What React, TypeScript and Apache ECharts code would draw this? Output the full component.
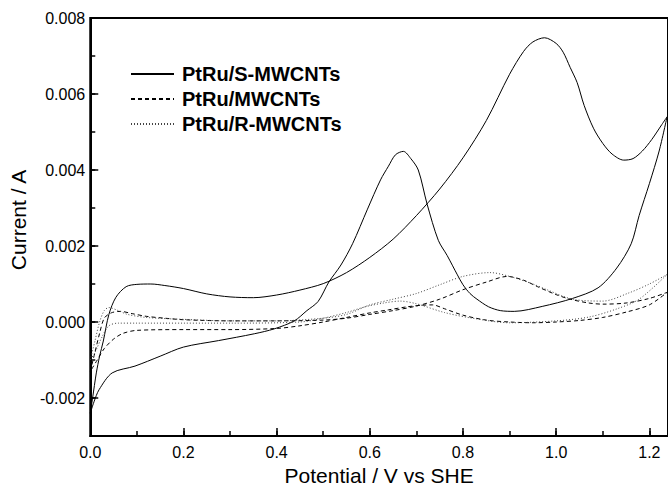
import React, { useEffect, useRef } from 'react';
import * as echarts from 'echarts';

const seriesNames = ['PtRu/S-MWCNTs', 'PtRu/MWCNTs', 'PtRu/R-MWCNTs'];

// PtRu/S-MWCNTs: forward scan then backward scan (potential V, current A)
const sV = [
  0.0, 0.005, 0.013, 0.02, 0.028, 0.04, 0.055, 0.077, 0.1, 0.13, 0.16, 0.2, 0.25, 0.3, 0.35, 0.4, 0.45, 0.5,
  0.55, 0.6, 0.65, 0.7, 0.75, 0.8, 0.85, 0.9, 0.93, 0.95, 0.975, 1.0, 1.015, 1.03, 1.045, 1.06, 1.08, 1.1,
  1.12, 1.145, 1.165, 1.185, 1.205, 1.227, 1.238,
  1.221, 1.2, 1.178, 1.161, 1.13, 1.09, 1.035, 0.97, 0.91, 0.88, 0.855, 0.83, 0.815, 0.8, 0.788, 0.766,
  0.747, 0.723, 0.704, 0.688, 0.672, 0.655, 0.64, 0.623, 0.595, 0.563, 0.538, 0.512, 0.489, 0.465, 0.438,
  0.395, 0.352, 0.275, 0.2, 0.15, 0.096, 0.047, 0.019, 0.008, 0.0,
];
const sI = [
  -0.0024, -0.002, -0.00134, -0.0009, -0.0005, 0.0002, 0.00065, 0.00093, 0.00099, 0.001, 0.00096, 0.00088,
  0.00074, 0.00066, 0.00064, 0.00071, 0.00084, 0.00101, 0.0013, 0.0017, 0.00218, 0.0028, 0.0035, 0.00432,
  0.0053, 0.00652, 0.00712, 0.00737, 0.00748, 0.00733, 0.0071, 0.0067, 0.0063, 0.0057, 0.0051, 0.0047,
  0.00442, 0.00426, 0.0043, 0.0045, 0.0048, 0.0052, 0.0054,
  0.0045, 0.00364, 0.0028, 0.00206, 0.00142, 0.0009, 0.00062, 0.00041, 0.00028, 0.0003, 0.0004, 0.0006,
  0.00075, 0.00098, 0.00124, 0.00175, 0.00215, 0.0031, 0.004, 0.0043, 0.00449, 0.0044, 0.0041, 0.00374,
  0.00297, 0.00206, 0.0015, 0.00105, 0.00054, 0.0003, 0.00003, -0.00018, -0.00031, -0.00049, -0.00066,
  -0.0009, -0.00116, -0.00134, -0.00178, -0.0021, -0.0024,
];

// PtRu/MWCNTs
const mV = [
  0.0, 0.01, 0.02, 0.03, 0.045, 0.065, 0.09, 0.12, 0.16, 0.2, 0.3, 0.4, 0.5, 0.55, 0.6, 0.65, 0.7, 0.75, 0.8,
  0.85, 0.895, 0.93, 0.96, 1.0, 1.03, 1.07, 1.1, 1.15, 1.2, 1.238,
  1.2, 1.15, 1.1, 1.05, 1.0, 0.95, 0.9, 0.85, 0.8, 0.76, 0.735, 0.71, 0.68, 0.64, 0.6, 0.55, 0.5, 0.45, 0.4,
  0.3, 0.2, 0.1, 0.07, 0.05, 0.03, 0.015, 0.0,
];
const mI = [
  -0.0013, -0.0008, -0.0003, 0.0001, 0.00024, 0.00028, 0.00022, 0.00015, 0.0001, 0.00006, 0.00003, 0.00003,
  0.00005, 0.0001, 0.0002, 0.0003, 0.00042, 0.0006, 0.00085, 0.00105, 0.0012, 0.0011, 0.00093, 0.00072,
  0.0006, 0.0005, 0.00047, 0.0005, 0.00062, 0.00078,
  0.00045, 0.00026, 0.00012, 0.00004, 0.0, -0.00002, 0.0, 0.00005, 0.00018, 0.00035, 0.00045, 0.00044,
  0.0004, 0.00032, 0.00024, 0.00012, 0.0, -0.0001, -0.00017, -0.0002, -0.0002, -0.00022, -0.0003, -0.00045,
  -0.0007, -0.001, -0.0013,
];

// PtRu/R-MWCNTs
const rV = [
  0.0, 0.01, 0.02, 0.03, 0.04, 0.06, 0.08, 0.12, 0.2, 0.3, 0.4, 0.5, 0.55, 0.6, 0.65, 0.7, 0.75, 0.8, 0.858,
  0.9, 0.95, 0.98, 1.035, 1.1, 1.157, 1.2, 1.238,
  1.178, 1.129, 1.07, 1.0, 0.9, 0.82, 0.76, 0.7, 0.665, 0.63, 0.59, 0.55, 0.5, 0.45, 0.3, 0.2, 0.1, 0.06,
  0.04, 0.025, 0.01, 0.0,
];
const rI = [
  -0.001, -0.0005, 0.0, 0.0003, 0.00038, 0.0003, 0.0002, 0.00012, 0.00007, 0.00003, 0.00003, 0.0001, 0.0002,
  0.00045, 0.0006, 0.00075, 0.00098, 0.0012, 0.0013, 0.0012, 0.001, 0.00085, 0.0006, 0.00055, 0.00077, 0.001,
  0.00125,
  0.0006, 0.00034, 0.00013, 0.00003, -0.00002, 0.0001, 0.00025, 0.00048, 0.00055, 0.0005, 0.0004, 0.00025,
  0.0001, 0.0, -0.00003, -0.00003, -0.00003, -0.00003, -0.0001, -0.0004, -0.0008, -0.001,
];

const FONT = '"Liberation Sans", Arial, Helvetica, sans-serif';

const zip = (v: number[], i: number[]) => v.map((x, k) => [x, i[k]]);

export default function App() {
  const ref = useRef<HTMLDivElement>(null);
  useEffect(() => {
    document.body.style.margin = '0';
    if (!ref.current) return;
    const chart = echarts.init(ref.current, null, { renderer: 'svg' });
    const lineBase = { type: 'line', symbol: 'none', smooth: 0.3, clip: true };
    chart.setOption({
      animation: false,
      backgroundColor: '#fff',
      textStyle: { fontFamily: FONT },
      grid: {
        left: 87, right: 0, top: 18, bottom: 47,
        show: true, borderColor: '#000', borderWidth: 2, backgroundColor: 'transparent',
      },
      legend: {
        orient: 'vertical', left: 125, top: 59, itemWidth: 43, itemHeight: 14, itemGap: 5,
        itemStyle: { opacity: 0 },
        textStyle: { fontSize: 20, fontWeight: 'bold', color: '#000', fontFamily: FONT, padding: [0, 0, 0, 3] },
        data: seriesNames,
      },
      xAxis: [
        {
          type: 'value', min: 0, max: 1.24, interval: 0.2, position: 'bottom',
          name: 'Potential / V vs SHE', nameLocation: 'middle', nameGap: 29,
          nameTextStyle: { fontSize: 21, color: '#000', fontFamily: FONT },
          axisLine: { onZero: false, lineStyle: { color: '#000', width: 2 } },
          axisTick: { inside: true, length: 8, lineStyle: { color: '#000', width: 1.5 } },
          axisLabel: {
            showMaxLabel: false, fontSize: 16, color: '#000', margin: 8, fontFamily: FONT,
            formatter: (v: number) => v.toFixed(1),
          },
          splitLine: { show: false },
        },
        {
          type: 'value', min: 0, max: 1.24, interval: 0.1, position: 'bottom',
          axisLine: { show: false, onZero: false },
          axisTick: { inside: true, length: 5, lineStyle: { color: '#000', width: 1.5 } },
          axisLabel: { show: false }, splitLine: { show: false },
        },
      ],
      yAxis: [
        {
          type: 'value', min: -0.003, max: 0.008, minInterval: 0.002, maxInterval: 0.002, splitNumber: 5,
          name: 'Current / A', nameLocation: 'middle', nameGap: 42,
          nameTextStyle: { fontSize: 21, color: '#000', fontFamily: FONT, padding: [0, 0, 0, 14] },
          axisLine: { onZero: false, lineStyle: { color: '#000', width: 2 } },
          axisTick: { inside: true, length: 8, lineStyle: { color: '#000', width: 1.5 } },
          axisLabel: {
            showMinLabel: false, fontSize: 16, color: '#000', margin: 5, fontFamily: FONT,
            formatter: (v: number) => v.toFixed(3),
          },
          splitLine: { show: false },
        },
        {
          type: 'value', min: -0.003, max: 0.008, interval: 0.001, position: 'left',
          axisLine: { show: false, onZero: false },
          axisTick: { inside: true, length: 5, lineStyle: { color: '#000', width: 1.5 } },
          axisLabel: { show: false }, splitLine: { show: false },
        },
      ],
      series: [
        {
          ...lineBase, name: seriesNames[0], data: zip(sV, sI),
          itemStyle: { color: '#000' }, lineStyle: { color: '#000', width: 1, type: 'solid' },
        },
        {
          ...lineBase, name: seriesNames[1], data: zip(mV, mI),
          itemStyle: { color: '#000' }, lineStyle: { color: '#000', width: 1, type: [4, 3] },
        },
        {
          ...lineBase, name: seriesNames[2], data: zip(rV, rI),
          itemStyle: { color: '#444' }, lineStyle: { color: '#444', width: 1, type: [1, 2] },
        },
      ],
    });
    return () => chart.dispose();
  }, []);
  return <div ref={ref} style={{ width: 668, height: 491 }} />;
}
